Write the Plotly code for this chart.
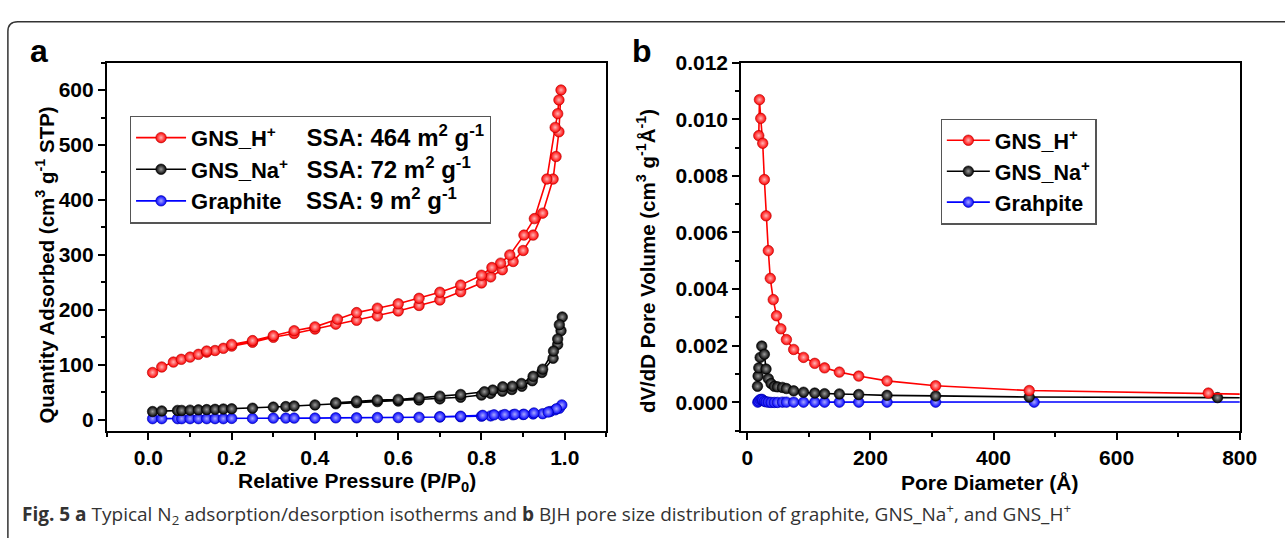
import plotly.graph_objects as go

# ---------------- data: panel a (N2 isotherms) ----------------
H_ads_p = [0.010, 0.032, 0.060, 0.079, 0.100, 0.120, 0.140, 0.160, 0.180, 0.200, 0.250, 0.300,
           0.350, 0.400, 0.450, 0.500, 0.550, 0.600, 0.650, 0.700, 0.750, 0.800, 0.822, 0.850,
           0.876, 0.900, 0.924, 0.947, 0.972, 0.979, 0.986, 0.991]
H_ads_q = [86, 96, 105, 110, 114, 119, 123, 126, 130, 134, 141, 150,
           157, 165, 174, 181, 189, 198, 208, 218, 233, 249, 260, 273,
           288, 308, 336, 376, 438, 479, 524, 600]
H_des_p = [0.986, 0.983, 0.977, 0.957, 0.927, 0.902, 0.868, 0.846, 0.825, 0.800, 0.750,
           0.700, 0.650, 0.600, 0.550, 0.500, 0.454, 0.400, 0.350, 0.300, 0.250, 0.200, 0.140]
H_des_q = [582, 557, 532, 438, 366, 336, 300, 285, 277, 263, 245,
           232, 221, 211, 203, 195, 183, 169, 162, 153, 144, 137, 125]

Na_ads_p = [0.010, 0.032, 0.070, 0.080, 0.100, 0.120, 0.140, 0.160, 0.180, 0.200, 0.250, 0.300,
            0.330, 0.350, 0.400, 0.450, 0.500, 0.550, 0.600, 0.650, 0.700, 0.750, 0.800, 0.822,
            0.850, 0.873, 0.897, 0.922, 0.945, 0.972, 0.983, 0.991, 0.994]
Na_ads_q = [15, 16, 17, 17, 17.5, 18, 18.5, 19, 19.5, 20, 21, 23,
            24, 25, 27, 29, 31, 33, 34, 36, 38, 41, 45, 48,
            52, 55, 61, 71, 86, 112, 137, 162, 187]
Na_des_p = [0.987, 0.983, 0.973, 0.947, 0.924, 0.896, 0.874, 0.851, 0.827, 0.807, 0.750,
            0.700, 0.650, 0.600, 0.550, 0.500, 0.450]
Na_des_q = [173, 147, 125, 92, 79, 66, 61, 60, 54, 51, 46,
            43, 40, 37, 36, 34, 31]

G_ads_p = [0.010, 0.032, 0.070, 0.080, 0.100, 0.120, 0.140, 0.160, 0.180, 0.200, 0.250, 0.300,
           0.330, 0.350, 0.400, 0.450, 0.500, 0.550, 0.600, 0.650, 0.700, 0.750, 0.800, 0.822,
           0.850, 0.876, 0.900, 0.924, 0.947, 0.965, 0.977, 0.987, 0.993]
G_ads_q = [2, 2, 2, 2, 2, 2, 2, 2, 2, 2.5, 2.5, 3,
           3, 3, 3, 3.5, 3.5, 4, 4, 4.5, 5, 5.5, 6.5, 7,
           8, 9, 9.5, 10.5, 11, 15, 18, 21, 27]
G_des_p = [0.980, 0.960, 0.926, 0.902, 0.880, 0.856, 0.830, 0.803, 0.750, 0.700]
G_des_q = [20, 14, 12.4, 10, 10, 9.5, 9, 8, 6.5, 5.5]

# ---------------- data: panel b (BJH pore size distribution) ----------------
D_H = [18.6, 19.7, 21.8, 25.0, 27.7, 30.4, 34.1, 37.3, 42.1, 47.4, 54.5, 63.5, 75.3, 91.3,
       109.5, 125.5, 149.5, 181, 227, 306, 458, 749, 1150]
V_H = [0.00942, 0.01069, 0.01003, 0.00915, 0.00787, 0.00659, 0.00536, 0.00438, 0.00363,
       0.00306, 0.00260, 0.00222, 0.00187, 0.00159, 0.00138, 0.00122, 0.00107, 0.00093,
       0.00076, 0.00059, 0.00042, 0.00033, 0.00016]

D_Na = [16.5, 17.5, 18.6, 20.8, 23.4, 27.7, 30.4, 34.1, 38.5, 43.8, 49.0, 57.0, 63.5, 75.3,
        91.3, 109.5, 125.5, 149.5, 181, 227, 306, 458, 764, 1200]
V_Na = [0.00057, 0.00093, 0.00122, 0.00159, 0.00199, 0.00170, 0.00118, 0.00084, 0.00067,
        0.00057, 0.00055, 0.00053, 0.00049, 0.00041, 0.00036, 0.00033, 0.00031, 0.00030,
        0.00028, 0.00025, 0.00023, 0.00019, 0.00017, 0.00010]

D_G = [17.0, 18.6, 20.8, 23.4, 25.0, 27.7, 30.4, 34.1, 38.5, 43.8, 49.0, 57.0, 63.5, 75.3,
       91.3, 109.5, 125.5, 149.5, 181, 227, 306, 466, 1200]
V_G = [0.00001, 0.00005, 0.00010, 0.00011, 0.00008, 0.00004, 0.00002, 0.00001, 0.0, 0.0,
       0.0, 0.00001, 0.00001, 0.00001, 0.00001, 0.00001, 0.00001, 0.00001, 0.00001, 0.00001,
       0.00001, 0.00001, 0.00002]

NBSP = "\u00a0"
SSA_SPAN = '<span style="font-size:24px">{}</span>'
names_a = [
    "GNS_H<sup>+</sup>" + NBSP * 5 + SSA_SPAN.format("SSA: 464 m<sup>2</sup> g<sup>-1</sup>"),
    "GNS_Na<sup>+</sup>" + NBSP * 3 + SSA_SPAN.format("SSA: 72 m<sup>2</sup> g<sup>-1</sup>"),
    "Graphite" + NBSP * 4 + SSA_SPAN.format("SSA: 9 m<sup>2</sup> g<sup>-1</sup>"),
]
names_b = ["GNS_H<sup>+</sup>", "GNS_Na<sup>+</sup>", "Grahpite"]

COLORS = ["#ff0000", "#000000", "#0000ff"]
LIGHT = ["#ffb4b4", "#9a9a9a", "#a8a8ff"]
EDGE = ["#b00000", "#000000", "#0000a0"]

FONT = "Liberation Sans, Arial, sans-serif"
W, H = 1285, 538

fig = go.Figure()

series_a = [(H_ads_p + H_des_p, H_ads_q + H_des_q),
            (Na_ads_p + Na_des_p, Na_ads_q + Na_des_q),
            (G_ads_p + G_des_p, G_ads_q + G_des_q)]
series_b = [(D_H, V_H), (D_Na, V_Na), (D_G, V_G)]

# draw blue first so red sits on top like the original
for i in [2, 1, 0]:
    x, y = series_a[i]
    fig.add_trace(go.Scatter(
        x=x, y=y, mode="lines+markers", name=names_a[i], legend="legend", legendrank=i,
        legendgroup=f"a{i}",
        line=dict(color=COLORS[i], width=1.6),
        marker=dict(size=10.5, color=COLORS[i], gradient=dict(type="radial", color=LIGHT[i]),
                    line=dict(width=0.6, color=EDGE[i])),
        xaxis="x", yaxis="y", showlegend=True))
for i in [2, 1, 0]:
    x, y = series_b[i]
    fig.add_trace(go.Scatter(
        x=x, y=y, mode="lines+markers", name=names_b[i], legend="legend2", legendrank=i,
        legendgroup=f"b{i}",
        line=dict(color=COLORS[i], width=1.6),
        marker=dict(size=10.5, color=COLORS[i], gradient=dict(type="radial", color=LIGHT[i]),
                    line=dict(width=0.6, color=EDGE[i])),
        xaxis="x2", yaxis="y2", showlegend=True))

ydom = [1 - 428.3 / H, 1 - 51.7 / H]
tickfont = dict(family=FONT, size=21, color="black", weight="bold")
axis_common = dict(showgrid=False, zeroline=False, showline=True, linecolor="black",
                   linewidth=1.8, mirror=True, ticks="outside", ticklen=7, tickwidth=1.6,
                   tickcolor="black", tickfont=tickfont)

fig.update_layout(
    width=W, height=H, margin=dict(l=0, r=0, t=0, b=0),
    paper_bgcolor="white", plot_bgcolor="white",
    font=dict(family=FONT, color="black"),
    xaxis=dict(domain=[108.3 / W, 615 / W], range=[-0.1, 1.1], tickvals=[0, 0.2, 0.4, 0.6, 0.8, 1.0],
               ticktext=["0.0", "0.2", "0.4", "0.6", "0.8", "1.0"],
               minor=dict(ticks="outside", ticklen=4, tickwidth=1.6, tickcolor="black", dtick=0.1, tick0=0),
               anchor="y", **axis_common),
    yaxis=dict(domain=ydom, range=[-20, 650], tickvals=[0, 100, 200, 300, 400, 500, 600],
               minor=dict(ticks="outside", ticklen=4, tickwidth=1.6, tickcolor="black", dtick=50, tick0=0),
               anchor="x", **axis_common),
    xaxis2=dict(domain=[751.7 / W, 1257.3 / W], range=[-10, 800], tickvals=[0, 200, 400, 600, 800],
                minor=dict(ticks="outside", ticklen=4, tickwidth=1.6, tickcolor="black", dtick=100, tick0=0),
                anchor="y2", **axis_common),
    yaxis2=dict(domain=ydom, range=[-0.001, 0.012],
                tickvals=[0, 0.002, 0.004, 0.006, 0.008, 0.010, 0.012],
                ticktext=["0.000", "0.002", "0.004", "0.006", "0.008", "0.010", "0.012"],
                minor=dict(ticks="outside", ticklen=4, tickwidth=1.6, tickcolor="black", dtick=0.001, tick0=0),
                anchor="x2", **axis_common),
    legend=dict(x=131.7 / W, y=1 - 106 / H, xanchor="left", yanchor="top",
                bordercolor="#555555", borderwidth=1.2, bgcolor="white",
                font=dict(family=FONT, size=22, color="black", weight="bold"),
                itemwidth=50, tracegroupgap=0, traceorder="grouped"),
    legend2=dict(x=954 / W, y=1 - 109 / H, xanchor="left", yanchor="top",
                 bordercolor="#555555", borderwidth=1.2, bgcolor="white",
                 font=dict(family=FONT, size=21.5, color="black", weight="bold"),
                 itemwidth=43, tracegroupgap=0, traceorder="grouped"),
    showlegend=True,
)

ann_font = dict(family=FONT, size=21, color="black", weight="bold")
ytitle_font = dict(family=FONT, size=20.5, color="black", weight="bold")
annotations = [
    dict(text="Relative Pressure (P/P<sub>0</sub>)", x=362 / W, y=1 - 481 / H, font=ann_font),
    dict(text="Pore Diameter (Å)", x=1004 / W, y=1 - 481 / H, font=ann_font),
    dict(text="Quantity Adsorbed (cm<sup>3</sup> g<sup>-1</sup> STP)", x=46 / W, y=1 - 259 / H,
         textangle=-90, font=ytitle_font),
    dict(text="dV/dD Pore Volume (cm<sup>3</sup> g<sup>-1</sup>Å<sup>-1</sup>)", x=656 / W, y=1 - 255 / H,
         textangle=-90, font=ytitle_font),
    dict(text="a", x=40 / W, y=1 - 40 / H, font=dict(family=FONT, size=32, color="black", weight="bold")),
    dict(text="b", x=651 / W, y=1 - 40 / H, font=dict(family=FONT, size=32, color="black", weight="bold")),
    dict(text="<b>Fig. 5 a</b> Typical N<sub>2</sub> adsorption/desorption isotherms and <b>b</b> BJH pore size "
              "distribution of graphite, GNS_Na<sup>+</sup>, and GNS_H<sup>+</sup>",
         x=20 / W, y=1 - 513 / H, xanchor="left",
         font=dict(family="Open Sans, sans-serif", size=19, color="#333333")),
]
for a in annotations:
    a.setdefault("xanchor", "center")
    a.update(xref="paper", yref="paper", yanchor="middle", showarrow=False)
fig.update_layout(annotations=annotations)

# rounded figure frame
r = 10
fig.add_shape(type="path", xref="paper", yref="paper",
              path=f"M {8/W},{-0.05} L {8/W},{1-(10+r)/H} Q {8/W},{1-10/H} {(8+r)/W},{1-10/H} L 1.05,{1-10/H}",
              line=dict(color="#333333", width=1.5))

fig.write_html("out.html", config={"displayModeBar": False},
               post_script="document.body.style.margin='0px';document.body.style.overflow='hidden';")
